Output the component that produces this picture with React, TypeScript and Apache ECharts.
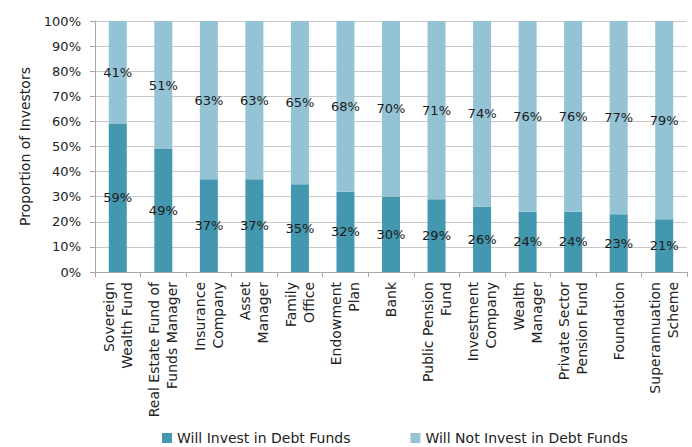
import React, { useEffect, useRef } from "react";
import * as echarts from "echarts";

const categories = [
  "Sovereign\nWealth Fund",
  "Real Estate Fund of\nFunds Manager",
  "Insurance\nCompany",
  "Asset\nManager",
  "Family\nOffice",
  "Endowment\nPlan",
  "Bank",
  "Public Pension\nFund",
  "Investment\nCompany",
  "Wealth\nManager",
  "Private Sector\nPension Fund",
  "Foundation",
  "Superannuation\nScheme",
];
const willInvest = [59, 49, 37, 37, 35, 32, 30, 29, 26, 24, 24, 23, 21];
const willNotInvest = [41, 51, 63, 63, 65, 68, 70, 71, 74, 76, 76, 77, 79];
const seriesNames = ["Will Invest in Debt Funds", "Will Not Invest in Debt Funds"];

const FONT = "DejaVu Sans";

export default function App() {
  const ref = useRef<HTMLDivElement>(null);
  useEffect(() => {
    if (!ref.current) return;
    const chart = echarts.init(ref.current, undefined, { renderer: "svg" });
    const labelStyle = {
      show: true,
      position: "inside",
      formatter: "{c}%",
      color: "#1a1a1a",
      fontFamily: FONT,
      fontSize: 13,
    };
    chart.setOption({
      animation: false,
      textStyle: { fontFamily: FONT },
      grid: { left: 95, right: 5, top: 21, bottom: 175, containLabel: false },
      legend: {
        top: 426,
        left: 157,
        itemWidth: 10,
        itemHeight: 10,
        itemGap: 60,
        icon: "rect",
        textStyle: { fontFamily: FONT, fontSize: 14, color: "#222" },
        data: seriesNames,
      },
      xAxis: {
        type: "category",
        data: categories,
        axisLine: { show: true, lineStyle: { color: "#a6a6a6" } },
        axisTick: { show: true, length: 5, lineStyle: { color: "#a6a6a6" } },
        axisLabel: {
          interval: 0,
          rotate: 90,
          margin: 10,
          fontFamily: FONT,
          fontSize: 14,
          color: "#222",
          lineHeight: 18,
        },
      },
      yAxis: {
        type: "value",
        min: 0,
        max: 100,
        interval: 10,
        name: "Proportion of Investors",
        nameLocation: "middle",
        nameGap: 63,
        nameTextStyle: { fontFamily: FONT, fontSize: 14, color: "#222" },
        axisLine: { show: true, lineStyle: { color: "#a6a6a6" } },
        axisTick: { show: true, length: 5, lineStyle: { color: "#a6a6a6" } },
        axisLabel: {
          formatter: "{value}%",
          fontFamily: FONT,
          fontSize: 13,
          color: "#222",
          margin: 14,
        },
        splitLine: { show: true, lineStyle: { color: "#c8c8c8" } },
      },
      series: [
        {
          name: seriesNames[0],
          type: "bar",
          stack: "total",
          barWidth: 18,
          data: willInvest,
          itemStyle: { color: "#4397ae" },
          label: labelStyle,
        },
        {
          name: seriesNames[1],
          type: "bar",
          stack: "total",
          barWidth: 18,
          data: willNotInvest,
          itemStyle: { color: "#93c3d5" },
          label: labelStyle,
        },
      ],
    });
    return () => chart.dispose();
  }, []);
  return (
    <div
      ref={ref}
      style={{ position: "absolute", left: 0, top: 0, width: 692, height: 447 }}
    />
  );
}
